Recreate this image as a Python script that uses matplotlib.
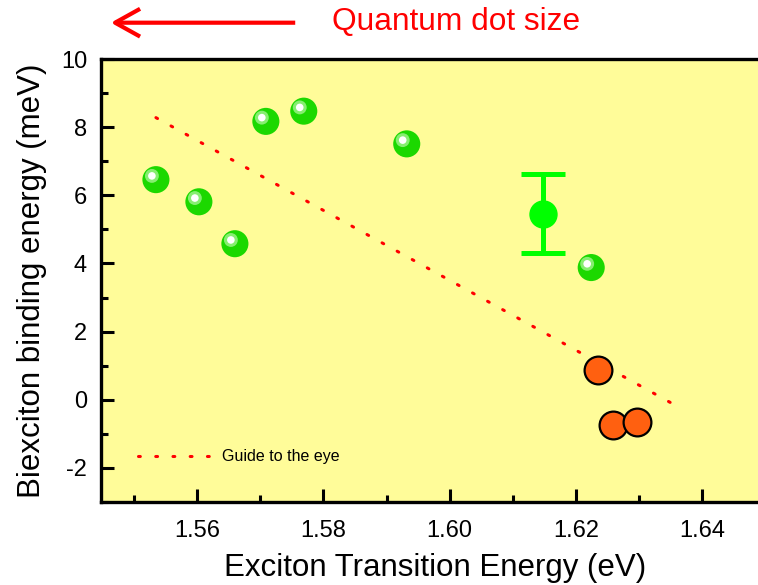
import matplotlib
matplotlib.use("Agg")
import matplotlib.pyplot as plt
from matplotlib.patches import FancyArrowPatch
from matplotlib.transforms import offset_copy

plt.rcParams["font.family"] = ["Liberation Sans", "DejaVu Sans"]
plt.rcParams["axes.unicode_minus"] = False

# green quantum dots (spheres)
green_x = [1.5535, 1.5603, 1.5660, 1.5709, 1.5769, 1.5932, 1.6224]
green_y = [6.46, 5.81, 4.58, 8.17, 8.47, 7.51, 3.88]

# averaged point with error bar
avg_x = [1.6147]
avg_y = [5.46]
avg_err = [1.16]

# orange dots
orange_x = [1.6234, 1.6259, 1.6297]
orange_y = [0.87, -0.73, -0.64]

# guide to the eye end points
guide_x = [1.5535, 1.6358]
guide_y = [8.28, -0.17]

fig = plt.figure(figsize=(7.58, 5.85), dpi=100)
ax = fig.add_axes([0.1332, 0.1419, 0.8668, 0.7572])
ax.set_facecolor("#fffc99")

ax.plot(guide_x, guide_y, color="#ff0000", linewidth=2.2,
        dashes=(0.6, 5.04), dash_capstyle="round", label="Guide to the eye", zorder=2)

# spheres: base + highlight layers
ax.scatter(green_x, green_y, s=380, color="#1cd800", edgecolors="none", zorder=3)
hl = offset_copy(ax.transData, fig=fig, x=-2.9, y=2.7, units="points")
ax.scatter(green_x, green_y, s=100, color="#86ee70", edgecolors="none", zorder=4, transform=hl)
ax.scatter(green_x, green_y, s=30, color="#ffffff", edgecolors="none", zorder=5, transform=hl)

ax.errorbar(avg_x, avg_y, yerr=avg_err, fmt="o", color="#00ff00", markersize=19.4,
            elinewidth=3.6, capsize=16, capthick=3.6, zorder=3)

ax.scatter(orange_x, orange_y, s=400, color="#ff6010", edgecolors="black",
           linewidths=1.6, zorder=3)

ax.set_xlim(1.5448, 1.6488)
ax.set_ylim(-3, 10)
ax.set_xticks([1.56, 1.58, 1.60, 1.62, 1.64])
ax.set_xticklabels(["1.56", "1.58", "1.60", "1.62", "1.64"])
ax.set_xticks([1.55, 1.57, 1.59, 1.61, 1.63], minor=True)
ax.set_yticks([-2, 0, 2, 4, 6, 8, 10])
ax.set_yticks([-3, -1, 1, 3, 5, 7, 9], minor=True)
ax.tick_params(which="both", direction="in", width=2.2, labelsize=17, pad=10)
ax.tick_params(which="major", length=9.5)
ax.tick_params(which="minor", length=5)
ax.tick_params(axis="x", pad=13)

for side in ["left", "bottom", "top"]:
    ax.spines[side].set_linewidth(2.4)
ax.spines["right"].set_visible(False)

ax.set_xlabel("Exciton Transition Energy (eV)", fontsize=22.5)
ax.xaxis.set_label_coords(0.508, -0.115)
ax.set_ylabel("Biexciton binding energy (meV)", fontsize=22.5, labelpad=10)

ax.legend(loc="center left", bbox_to_anchor=(0.056, 0.102), frameon=False,
          fontsize=11.5, handlelength=4.6, handletextpad=0.7, borderpad=0,
          borderaxespad=0)

# quantum dot size arrow and label
fig.text(0.602, 0.962, "Quantum dot size", color="#ff0000", fontsize=22.8,
         ha="center", va="center")
fig.add_artist(FancyArrowPatch(
    (298 / 758, 1 - 22.7 / 585), (108 / 758, 1 - 22.7 / 585),
    transform=fig.transFigure, arrowstyle="->,head_length=18,head_width=10",
    mutation_scale=1, linewidth=3, color="#ff0000", capstyle="butt"))

fig.savefig("out.png", dpi=100)
